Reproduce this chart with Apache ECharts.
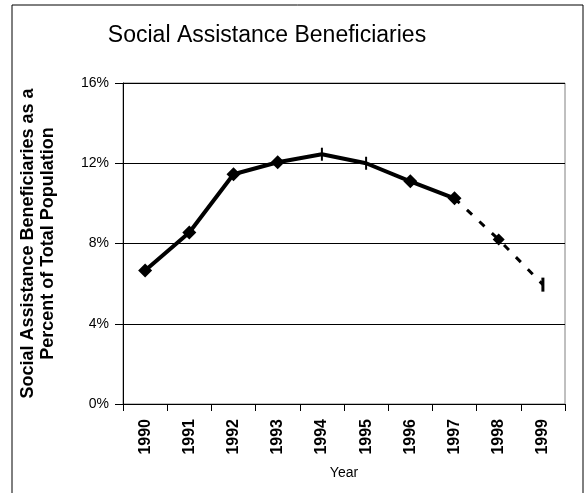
<!DOCTYPE html>
<html>
<head>
<meta charset="utf-8">
<script src="https://cdn.jsdelivr.net/npm/echarts@6/dist/echarts.min.js"></script>
<style>
  html, body { margin: 0; padding: 0; background: #fff; }
  #chart { width: 585px; height: 493px; }
</style>
</head>
<body>
<div id="chart"></div>
<script>
// data
const years = ['1990', '1991', '1992', '1993', '1994', '1995', '1996', '1997', '1998', '1999']
const actual = [6.65, 8.55, 11.45, 12.05, 12.45, 12.0, 11.1, 10.25, null, null]
const projected = [null, null, null, null, null, null, null, 10.25, 8.2, 5.95]

const font = 'Liberation Sans, Arial, sans-serif'
const dashMark = 'path://M0,0 L2,0 L2,12 L0,12 Z'

const chart = echarts.init(document.getElementById('chart'))

chart.setOption({
  animation: false,
  title: {
    text: 'Social Assistance Beneficiaries',
    left: 262,
    top: 19,
    textAlign: 'center',
    textStyle: { fontFamily: font, fontSize: 23, fontWeight: 'normal', color: '#000' }
  },
  graphic: [
    {
      type: 'rect',
      shape: { x: 12, y: 5, width: 571, height: 540 },
      style: { fill: 'none', stroke: '#000', lineWidth: 1 },
      silent: true
    }
  ],
  grid: {
    left: 123,
    right: 20,
    top: 83,
    bottom: 89,
    outerBoundsMode: 'none',
    containLabel: false,
    show: true,
    borderColor: '#808080',
    borderWidth: 1
  },
  xAxis: {
    type: 'category',
    data: years,
    boundaryGap: true,
    name: 'Year',
    nameLocation: 'middle',
    nameGap: 62,
    nameTextStyle: { fontFamily: font, fontSize: 14, color: '#000' },
    axisLine: { lineStyle: { color: '#000', width: 1 } },
    axisTick: { show: true, length: 7, lineStyle: { color: '#000' } },
    axisLabel: {
      rotate: 90,
      margin: 15,
      fontFamily: font,
      fontSize: 16,
      fontWeight: 'bold',
      color: '#000'
    },
    splitLine: { show: false }
  },
  yAxis: {
    type: 'value',
    min: 0,
    max: 16,
    interval: 4,
    name: 'Social Assistance Beneficiaries as a\nPercent of Total Population',
    nameLocation: 'middle',
    nameRotate: 90,
    nameGap: 65,
    nameTextStyle: {
      fontFamily: font,
      fontSize: 18,
      fontWeight: 'bold',
      color: '#000',
      lineHeight: 20,
      align: 'center'
    },
    axisLine: { show: true, lineStyle: { color: '#000', width: 1 } },
    axisTick: { show: true, length: 8, lineStyle: { color: '#000' } },
    axisLabel: {
      formatter: '{value}%',
      margin: 14,
      fontFamily: font,
      fontSize: 14,
      color: '#000'
    },
    splitLine: { show: true, lineStyle: { color: '#000', width: 1 } }
  },
  series: [
    {
      name: 'Actual',
      type: 'line',
      data: actual,
      connectNulls: false,
      showSymbol: true,
      symbol: (val, params) => (params.dataIndex === 4 || params.dataIndex === 5 ? dashMark : 'diamond'),
      symbolSize: (val, params) => (params.dataIndex === 4 || params.dataIndex === 5 ? [2, 13] : 14),
      itemStyle: { color: '#000' },
      lineStyle: { color: '#000', width: 4 },
      z: 3
    },
    {
      name: 'Projected',
      type: 'line',
      data: projected,
      showSymbol: true,
      symbol: (val, params) => (params.dataIndex === 9 ? dashMark : params.dataIndex === 7 ? 'none' : 'diamond'),
      symbolSize: (val, params) => (params.dataIndex === 9 ? [3, 14] : 12),
      itemStyle: { color: '#000' },
      lineStyle: { color: '#000', width: 3, type: [7, 10] },
      z: 2
    }
  ]
})
</script>
</body>
</html>
